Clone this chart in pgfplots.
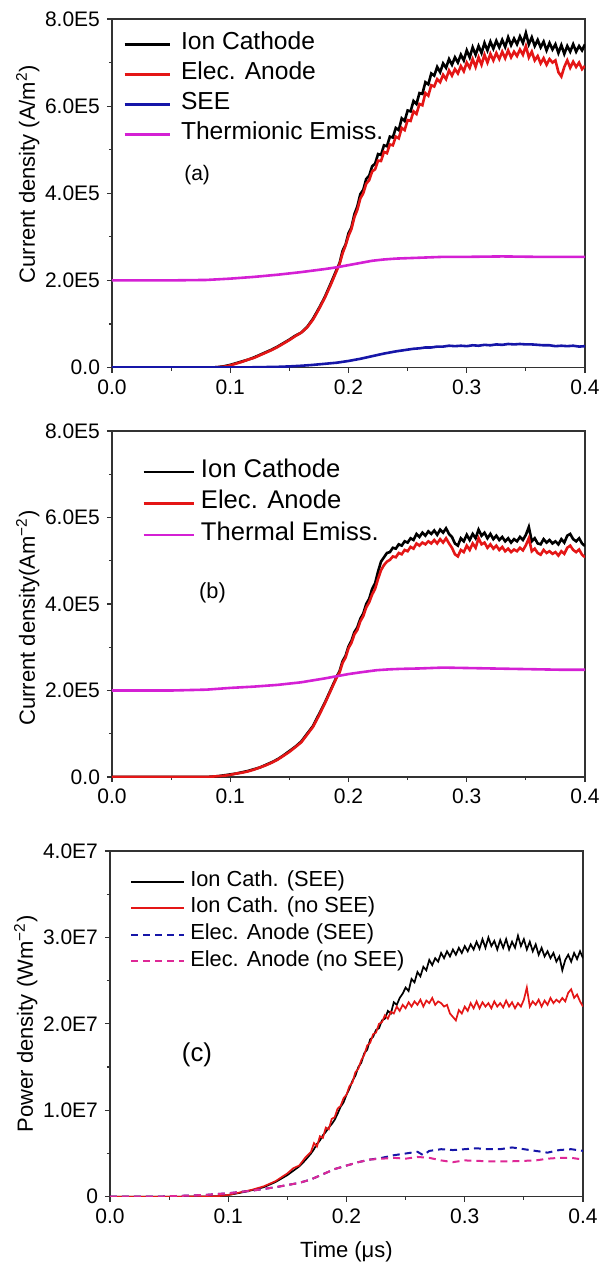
\documentclass[border=0pt]{standalone}
\usepackage{fontspec}
\setmainfont{Liberation Sans}
\usepackage{pgfplots}
\pgfplotsset{compat=1.18}
\definecolor{cred}{RGB}{228,22,22}
\definecolor{cblue}{RGB}{22,22,168}
\definecolor{cmag}{RGB}{212,32,212}
\definecolor{cpink}{RGB}{222,40,150}
\definecolor{cframe}{RGB}{50,50,50}
\pgfplotsset{
  base/.style={
    scale only axis, width=236.5pt,
    xmin=0, xmax=0.4,
    xtick={0,0.1,0.2,0.3,0.4}, xticklabels={0.0,0.1,0.2,0.3,0.4},
    minor x tick num=1, minor y tick num=1,
    tick align=outside, tick pos=left,
    major tick length=2.5pt, minor tick length=1.5pt,
    tick style={line width=0.6pt, color=cframe},
    axis line style={line width=0.6pt, color=cframe},
    ticklabel style={font=\fontsize{10.5}{12}\selectfont},
    label style={font=\fontsize{11}{13}\selectfont},
    ylabel shift=-4pt,
    legend cell align=left,
  }
}
\begin{document}
\begin{tikzpicture}
\useasboundingbox (0,0) rectangle (300pt,-634.5pt);
% ---------------- (a)
\begin{axis}[base, at={(56pt,-183.75pt)}, anchor=south west, height=174.25pt,
  ymin=0, ymax=8, ytick={0,2,4,6,8}, yticklabels={0.0,2.0E5,4.0E5,6.0E5,8.0E5},
  ylabel={Current density (A/m\textsuperscript{2})},
  ylabel style={at={(ticklabel cs:0.555)}},
  legend style={draw=none, fill=none, at={(0.0233,0.971)}, anchor=north west,
    font=\fontsize{12.3}{15}\selectfont, inner sep=0pt,
    nodes={inner sep=0pt, text height=10pt, text depth=5pt},
    column sep=5pt, row sep=0pt},
  legend image code/.code={\draw[#1] (0pt,0pt) -- (22.5pt,0pt);},
  every axis plot/.append style={line width=1.3pt}]
\addplot[black] coordinates {
(0,0) (0.05,0) (0.085,0) (0.09,0.01) (0.095,0.03) (0.10,0.06) (0.105,0.10) (0.11,0.14) (0.115,0.18) (0.12,0.23) (0.125,0.29) (0.13,0.35) (0.135,0.41) (0.14,0.48) (0.145,0.56) (0.15,0.64) (0.155,0.73) (0.16,0.80) (0.165,0.93) (0.17,1.12) (0.175,1.36) (0.18,1.62) (0.185,1.93)
(0.1900,2.25) (0.1925,2.40) (0.1950,2.68) (0.1975,2.82) (0.2000,3.08) (0.2025,3.22) (0.2050,3.52) (0.2075,3.70) (0.2100,3.98) (0.2125,4.08) (0.2150,4.33) (0.2175,4.40) (0.2200,4.62) (0.2225,4.68) (0.2250,4.90) (0.2275,4.88) (0.2300,5.10) (0.2325,5.08) (0.2350,5.30) (0.2375,5.28) (0.2400,5.50) (0.2425,5.45) (0.2450,5.72) (0.2475,5.66) (0.2500,5.90) (0.2525,5.88) (0.2550,6.12) (0.2575,6.05) (0.2600,6.30) (0.2625,6.28) (0.2650,6.55) (0.2675,6.50) (0.2700,6.75) (0.2725,6.70) (0.2750,6.90) (0.2775,6.78) (0.2800,6.98) (0.2825,6.88) (0.2850,7.08) (0.2875,6.95) (0.2900,7.12) (0.2925,7.00) (0.2950,7.18) (0.2975,7.05) (0.3000,7.28) (0.3025,7.12) (0.3050,7.35) (0.3075,7.18) (0.3100,7.38) (0.3125,7.22) (0.3150,7.45) (0.3175,7.28) (0.3200,7.48) (0.3225,7.32) (0.3250,7.50) (0.3275,7.35) (0.3300,7.52) (0.3325,7.36) (0.3350,7.58) (0.3375,7.40) (0.3400,7.55) (0.3425,7.42) (0.3450,7.60) (0.3475,7.45) (0.3500,7.68) (0.3525,7.42) (0.3550,7.58) (0.3575,7.38) (0.3600,7.52) (0.3625,7.35) (0.3650,7.48) (0.3675,7.28) (0.3700,7.45) (0.3725,7.30) (0.3750,7.42) (0.3775,7.22) (0.3800,7.40) (0.3825,7.20) (0.3850,7.38) (0.3875,7.25) (0.3900,7.42) (0.3925,7.25) (0.3950,7.38) (0.3975,7.28) (0.4000,7.42)
};
\addlegendentry{Ion Cathode}
\addplot[cred] coordinates {
(0,0) (0.05,0) (0.085,0) (0.09,0.01) (0.095,0.02) (0.10,0.05) (0.105,0.09) (0.11,0.13) (0.115,0.18) (0.12,0.22) (0.125,0.28) (0.13,0.34) (0.135,0.40) (0.14,0.47) (0.145,0.55) (0.15,0.63) (0.155,0.72) (0.16,0.80) (0.165,0.92) (0.17,1.10) (0.175,1.34) (0.18,1.60) (0.185,1.90)
(0.1900,2.22) (0.1925,2.38) (0.1950,2.62) (0.1975,2.80) (0.2000,3.02) (0.2025,3.18) (0.2050,3.45) (0.2075,3.62) (0.2100,3.88) (0.2125,4.00) (0.2150,4.22) (0.2175,4.30) (0.2200,4.50) (0.2225,4.55) (0.2250,4.75) (0.2275,4.74) (0.2300,4.95) (0.2325,4.92) (0.2350,5.12) (0.2375,5.10) (0.2400,5.30) (0.2425,5.26) (0.2450,5.50) (0.2475,5.45) (0.2500,5.68) (0.2525,5.66) (0.2550,5.88) (0.2575,5.82) (0.2600,6.05) (0.2625,6.02) (0.2650,6.30) (0.2675,6.24) (0.2700,6.48) (0.2725,6.45) (0.2750,6.62) (0.2775,6.55) (0.2800,6.72) (0.2825,6.62) (0.2850,6.82) (0.2875,6.70) (0.2900,6.85) (0.2925,6.75) (0.2950,6.92) (0.2975,6.80) (0.3000,7.00) (0.3025,6.88) (0.3050,7.08) (0.3075,6.90) (0.3100,7.12) (0.3125,6.95) (0.3150,7.18) (0.3175,7.00) (0.3200,7.20) (0.3225,7.05) (0.3250,7.22) (0.3275,7.08) (0.3300,7.25) (0.3325,7.10) (0.3350,7.28) (0.3375,7.12) (0.3400,7.25) (0.3425,7.15) (0.3450,7.30) (0.3475,7.18) (0.3500,7.38) (0.3525,7.12) (0.3550,7.25) (0.3575,7.05) (0.3600,7.15) (0.3625,6.98) (0.3650,7.10) (0.3675,6.95) (0.3700,7.08) (0.3725,7.00) (0.3750,7.05) (0.3775,6.78) (0.3800,6.68) (0.3825,6.90) (0.3850,7.05) (0.3875,6.88) (0.3900,7.02) (0.3925,6.90) (0.3950,7.00) (0.3975,6.85) (0.4000,6.92)
};
\addlegendentry{Elec. Anode}
\addplot[cblue] coordinates {
(0,0) (0.10,0) (0.12,0.005) (0.14,0.015) (0.15,0.025) (0.16,0.04) (0.17,0.06) (0.18,0.085) (0.19,0.11) (0.20,0.15) (0.21,0.20) (0.22,0.26) (0.23,0.32) (0.24,0.37) (0.25,0.41) (0.255,0.43) (0.26,0.44) (0.265,0.46) (0.27,0.46) (0.275,0.48) (0.28,0.48) (0.285,0.50) (0.29,0.49) (0.295,0.50) (0.30,0.49) (0.305,0.51) (0.31,0.50) (0.315,0.52) (0.32,0.51) (0.325,0.53) (0.33,0.52) (0.335,0.54) (0.34,0.53) (0.345,0.54) (0.35,0.53) (0.355,0.53) (0.36,0.52) (0.365,0.51) (0.37,0.51) (0.375,0.49) (0.38,0.50) (0.385,0.49) (0.39,0.50) (0.395,0.48) (0.40,0.49)
};
\addlegendentry{SEE}
\addplot[cmag] coordinates {
(0,2.00) (0.05,2.00) (0.08,2.01) (0.10,2.04) (0.12,2.08) (0.14,2.13) (0.16,2.19) (0.18,2.26) (0.19,2.30) (0.20,2.35) (0.21,2.40) (0.22,2.45) (0.23,2.48) (0.24,2.50) (0.26,2.52) (0.28,2.54) (0.30,2.54) (0.33,2.55) (0.36,2.54) (0.40,2.54)
};
\addlegendentry{Thermionic Emiss.}
\node[font=\fontsize{10.5}{12}\selectfont] at (axis cs:0.072,4.42) {(a)};
\end{axis}
% ---------------- (b)
\begin{axis}[base, at={(56pt,-388.5pt)}, anchor=south west, height=173pt,
  ymin=0, ymax=8, ytick={0,2,4,6,8}, yticklabels={0.0,2.0E5,4.0E5,6.0E5,8.0E5},
  ylabel={Current density(Am\textsuperscript{−2})},
  ylabel style={at={(ticklabel cs:0.46)}},
  legend style={draw=none, fill=none, at={(0.0634,0.928)}, anchor=north west,
    font=\fontsize{12.8}{15.75}\selectfont, inner sep=0pt,
    nodes={inner sep=0pt, text height=10.5pt, text depth=5.25pt},
    column sep=3pt, row sep=0pt},
  legend image code/.code={\draw[#1] (0pt,0pt) -- (25pt,0pt);},
  every axis plot/.append style={line width=1.3pt}]
\addplot[black] coordinates {
(0,0) (0.08,0) (0.085,0.01) (0.09,0.02) (0.095,0.04) (0.10,0.06) (0.105,0.08) (0.11,0.11) (0.115,0.14) (0.12,0.18) (0.125,0.22) (0.13,0.28) (0.135,0.34) (0.14,0.41) (0.145,0.50) (0.15,0.60) (0.155,0.70) (0.16,0.82) (0.165,1.00) (0.17,1.18) (0.175,1.45) (0.18,1.72) (0.185,2.02)
(0.1900,2.32) (0.1925,2.45) (0.1950,2.68) (0.1975,2.80) (0.2000,3.02) (0.2025,3.15) (0.2050,3.35) (0.2075,3.46) (0.2100,3.66) (0.2125,3.78) (0.2150,4.00) (0.2175,4.12) (0.2200,4.35) (0.2225,4.48) (0.2250,4.75) (0.2275,4.98) (0.2300,5.08) (0.2325,5.18) (0.2350,5.20) (0.2375,5.30) (0.2400,5.28) (0.2425,5.38) (0.2450,5.35) (0.2475,5.45) (0.2500,5.42) (0.2525,5.52) (0.2550,5.48) (0.2575,5.62) (0.2600,5.55) (0.2625,5.65) (0.2650,5.58) (0.2675,5.68) (0.2700,5.62) (0.2725,5.70) (0.2750,5.60) (0.2775,5.72) (0.2800,5.65) (0.2825,5.75) (0.2850,5.62) (0.2875,5.55) (0.2900,5.40) (0.2925,5.35) (0.2950,5.52) (0.2975,5.45) (0.3000,5.60) (0.3025,5.48) (0.3050,5.62) (0.3075,5.52) (0.3100,5.72) (0.3125,5.58) (0.3150,5.65) (0.3175,5.52) (0.3200,5.62) (0.3225,5.50) (0.3250,5.58) (0.3275,5.48) (0.3300,5.55) (0.3325,5.45) (0.3350,5.52) (0.3375,5.42) (0.3400,5.50) (0.3425,5.45) (0.3450,5.55) (0.3475,5.48) (0.3500,5.60) (0.3525,5.78) (0.3550,5.45) (0.3575,5.52) (0.3600,5.40) (0.3625,5.38) (0.3650,5.50) (0.3675,5.42) (0.3700,5.48) (0.3725,5.40) (0.3750,5.45) (0.3775,5.38) (0.3800,5.50) (0.3825,5.42) (0.3850,5.58) (0.3875,5.62) (0.3900,5.50) (0.3925,5.45) (0.3950,5.52) (0.3975,5.40) (0.4000,5.34)
};
\addlegendentry{Ion Cathode}
\addplot[cred] coordinates {
(0,0) (0.08,0) (0.085,0.01) (0.09,0.02) (0.095,0.03) (0.10,0.05) (0.105,0.08) (0.11,0.10) (0.115,0.13) (0.12,0.17) (0.125,0.22) (0.13,0.27) (0.135,0.33) (0.14,0.40) (0.145,0.49) (0.15,0.58) (0.155,0.69) (0.16,0.80) (0.165,0.98) (0.17,1.16) (0.175,1.42) (0.18,1.70) (0.185,2.00)
(0.1900,2.30) (0.1925,2.42) (0.1950,2.64) (0.1975,2.76) (0.2000,2.98) (0.2025,3.10) (0.2050,3.30) (0.2075,3.40) (0.2100,3.60) (0.2125,3.72) (0.2150,3.92) (0.2175,4.04) (0.2200,4.22) (0.2225,4.35) (0.2250,4.58) (0.2275,4.78) (0.2300,4.90) (0.2325,4.98) (0.2350,5.02) (0.2375,5.10) (0.2400,5.08) (0.2425,5.18) (0.2450,5.15) (0.2475,5.25) (0.2500,5.22) (0.2525,5.32) (0.2550,5.28) (0.2575,5.40) (0.2600,5.35) (0.2625,5.42) (0.2650,5.38) (0.2675,5.45) (0.2700,5.40) (0.2725,5.48) (0.2750,5.40) (0.2775,5.50) (0.2800,5.42) (0.2825,5.52) (0.2850,5.40) (0.2875,5.30) (0.2900,5.15) (0.2925,5.10) (0.2950,5.25) (0.2975,5.20) (0.3000,5.35) (0.3025,5.25) (0.3050,5.40) (0.3075,5.30) (0.3100,5.52) (0.3125,5.38) (0.3150,5.42) (0.3175,5.30) (0.3200,5.38) (0.3225,5.28) (0.3250,5.35) (0.3275,5.25) (0.3300,5.32) (0.3325,5.22) (0.3350,5.28) (0.3375,5.20) (0.3400,5.26) (0.3425,5.22) (0.3450,5.30) (0.3475,5.24) (0.3500,5.36) (0.3525,5.52) (0.3550,5.22) (0.3575,5.28) (0.3600,5.18) (0.3625,5.14) (0.3650,5.25) (0.3675,5.18) (0.3700,5.22) (0.3725,5.16) (0.3750,5.20) (0.3775,5.12) (0.3800,5.22) (0.3825,5.16) (0.3850,5.30) (0.3875,5.35) (0.3900,5.25) (0.3925,5.20) (0.3950,5.26) (0.3975,5.14) (0.4000,5.08)
};
\addlegendentry{Elec. Anode}
\addplot[cmag] coordinates {
(0,2.00) (0.05,2.00) (0.08,2.02) (0.10,2.06) (0.12,2.09) (0.14,2.13) (0.16,2.19) (0.18,2.28) (0.19,2.33) (0.20,2.38) (0.21,2.42) (0.224,2.47) (0.235,2.49) (0.244,2.50) (0.26,2.51) (0.28,2.53) (0.30,2.52) (0.32,2.51) (0.34,2.50) (0.36,2.49) (0.38,2.48) (0.40,2.48)
};
\addlegendentry{Thermal Emiss.}
\node[font=\fontsize{10.9}{12}\selectfont] at (axis cs:0.085,4.25) {(b)};
\end{axis}
% ---------------- (c)
\begin{axis}[base, at={(55pt,-598.35pt)}, anchor=south west, height=172.85pt,
  ymin=0, ymax=4, ytick={0,1,2,3,4}, yticklabels={0,1.0E7,2.0E7,3.0E7,4.0E7},
  ylabel={Power density (Wm\textsuperscript{−2})},
  ylabel style={at={(ticklabel cs:0.5)}},
  xlabel={Time (μs)},
  xlabel style={yshift=-2pt},
  legend style={draw=none, fill=none, at={(0.042,0.951)}, anchor=north west,
    font=\fontsize{10.9}{13.3}\selectfont, inner sep=0pt,
    nodes={inner sep=0pt, text height=9pt, text depth=4.3pt},
    column sep=2.5pt, row sep=0pt},
  legend image code/.code={\draw[#1] (0pt,0pt) -- (26.5pt,0pt);},
  every axis plot/.append style={line width=0.85pt}]
\addplot[black] coordinates {
(0,0) (0.05,0) (0.09,0.005) (0.10,0.02) (0.11,0.045) (0.12,0.075) (0.13,0.11) (0.14,0.17) (0.15,0.25) (0.16,0.35) (0.165,0.42)
(0.1700,0.50) (0.1725,0.55) (0.1750,0.61) (0.1775,0.65) (0.1800,0.71) (0.1825,0.75) (0.1850,0.80) (0.1875,0.84) (0.1900,0.89) (0.1925,0.96) (0.1950,1.04) (0.1975,1.09) (0.2000,1.18) (0.2025,1.25) (0.2050,1.34) (0.2075,1.40) (0.2100,1.50) (0.2125,1.55) (0.2150,1.66) (0.2175,1.70) (0.2200,1.82) (0.2225,1.85) (0.2250,1.93) (0.2275,1.95) (0.2300,2.04) (0.2325,2.06) (0.2350,2.15) (0.2375,2.12) (0.2400,2.25) (0.2425,2.22) (0.2450,2.30) (0.2475,2.35) (0.2500,2.42) (0.2525,2.38) (0.2550,2.52) (0.2575,2.48) (0.2600,2.60) (0.2625,2.55) (0.2650,2.66) (0.2675,2.62) (0.2700,2.74) (0.2725,2.68) (0.2750,2.76) (0.2775,2.72) (0.2800,2.82) (0.2825,2.76) (0.2850,2.84) (0.2875,2.78) (0.2900,2.86) (0.2925,2.80) (0.2950,2.88) (0.2975,2.82) (0.3000,2.90) (0.3025,2.84) (0.3050,2.92) (0.3075,2.86) (0.3100,2.95) (0.3125,2.87) (0.3150,2.98) (0.3175,2.88) (0.3200,3.00) (0.3225,2.90) (0.3250,2.96) (0.3275,2.86) (0.3300,2.97) (0.3325,2.88) (0.3350,2.98) (0.3375,2.86) (0.3400,2.95) (0.3425,2.88) (0.3450,3.02) (0.3475,2.90) (0.3500,2.98) (0.3525,2.86) (0.3550,2.95) (0.3575,2.84) (0.3600,2.92) (0.3625,2.80) (0.3650,2.88) (0.3675,2.78) (0.3700,2.84) (0.3725,2.76) (0.3750,2.82) (0.3775,2.72) (0.3800,2.78) (0.3825,2.62) (0.3850,2.74) (0.3875,2.80) (0.3900,2.72) (0.3925,2.82) (0.3950,2.75) (0.3975,2.84) (0.4000,2.76)
};
\addlegendentry{Ion Cath. (SEE)}
\addplot[cred] coordinates {
(0,0) (0.05,0) (0.09,0.005) (0.10,0.02) (0.11,0.05) (0.12,0.08) (0.13,0.12) (0.14,0.18) (0.15,0.27) (0.155,0.33) (0.16,0.36) (0.165,0.45)
(0.1700,0.52) (0.1725,0.62) (0.1750,0.58) (0.1775,0.70) (0.1800,0.68) (0.1825,0.80) (0.1850,0.78) (0.1875,0.90) (0.1900,0.92) (0.1925,1.02) (0.1950,1.05) (0.1975,1.14) (0.2000,1.18) (0.2025,1.28) (0.2050,1.32) (0.2075,1.44) (0.2100,1.48) (0.2125,1.58) (0.2150,1.64) (0.2175,1.75) (0.2200,1.78) (0.2225,1.88) (0.2250,1.90) (0.2275,2.00) (0.2300,2.02) (0.2325,2.10) (0.2350,2.06) (0.2375,2.14) (0.2400,2.12) (0.2425,2.20) (0.2450,2.15) (0.2475,2.22) (0.2500,2.18) (0.2525,2.25) (0.2550,2.20) (0.2575,2.26) (0.2600,2.22) (0.2625,2.28) (0.2650,2.20) (0.2675,2.27) (0.2700,2.24) (0.2725,2.30) (0.2750,2.22) (0.2775,2.26) (0.2800,2.24) (0.2825,2.20) (0.2850,2.22) (0.2875,2.12) (0.2900,2.08) (0.2925,2.04) (0.2950,2.16) (0.2975,2.12) (0.3000,2.20) (0.3025,2.15) (0.3050,2.24) (0.3075,2.18) (0.3100,2.26) (0.3125,2.18) (0.3150,2.25) (0.3175,2.20) (0.3200,2.24) (0.3225,2.18) (0.3250,2.26) (0.3275,2.20) (0.3300,2.24) (0.3325,2.19) (0.3350,2.27) (0.3375,2.20) (0.3400,2.25) (0.3425,2.18) (0.3450,2.24) (0.3475,2.20) (0.3500,2.28) (0.3525,2.42) (0.3550,2.20) (0.3575,2.26) (0.3600,2.22) (0.3625,2.28) (0.3650,2.20) (0.3675,2.27) (0.3700,2.22) (0.3725,2.30) (0.3750,2.24) (0.3775,2.28) (0.3800,2.25) (0.3825,2.30) (0.3850,2.26) (0.3875,2.36) (0.3900,2.40) (0.3925,2.30) (0.3950,2.34) (0.3975,2.26) (0.4000,2.20)
};
\addlegendentry{Ion Cath. (no SEE)}
\addplot[cblue, line width=1pt, dash pattern=on 3.5pt off 2.5pt] coordinates {
(0,0) (0.04,0) (0.06,0.01) (0.08,0.02) (0.10,0.04) (0.12,0.07) (0.14,0.11) (0.16,0.16) (0.17,0.20) (0.18,0.26) (0.19,0.32) (0.20,0.36) (0.21,0.40) (0.22,0.43) (0.23,0.45) (0.24,0.48) (0.25,0.50) (0.26,0.52) (0.265,0.48) (0.27,0.53) (0.28,0.55) (0.29,0.54) (0.30,0.55) (0.31,0.56) (0.32,0.55) (0.33,0.55) (0.34,0.57) (0.35,0.55) (0.36,0.53) (0.37,0.51) (0.38,0.54) (0.39,0.55) (0.40,0.53)
};
\addlegendentry{Elec. Anode (SEE)}
\addplot[cpink, line width=1pt, dash pattern=on 3.5pt off 2.5pt] coordinates {
(0,0) (0.04,0) (0.06,0.01) (0.08,0.02) (0.10,0.04) (0.12,0.07) (0.14,0.11) (0.16,0.16) (0.17,0.20) (0.18,0.26) (0.19,0.32) (0.20,0.36) (0.21,0.40) (0.22,0.43) (0.23,0.44) (0.24,0.45) (0.25,0.44) (0.26,0.46) (0.27,0.45) (0.28,0.42) (0.29,0.40) (0.30,0.42) (0.32,0.41) (0.34,0.41) (0.36,0.42) (0.37,0.44) (0.38,0.45) (0.39,0.45) (0.40,0.43)
};
\addlegendentry{Elec. Anode (no SEE)}
\node[font=\fontsize{12.9}{14}\selectfont] at (axis cs:0.0736,1.64) {(c)};
\end{axis}
\end{tikzpicture}
\end{document}
